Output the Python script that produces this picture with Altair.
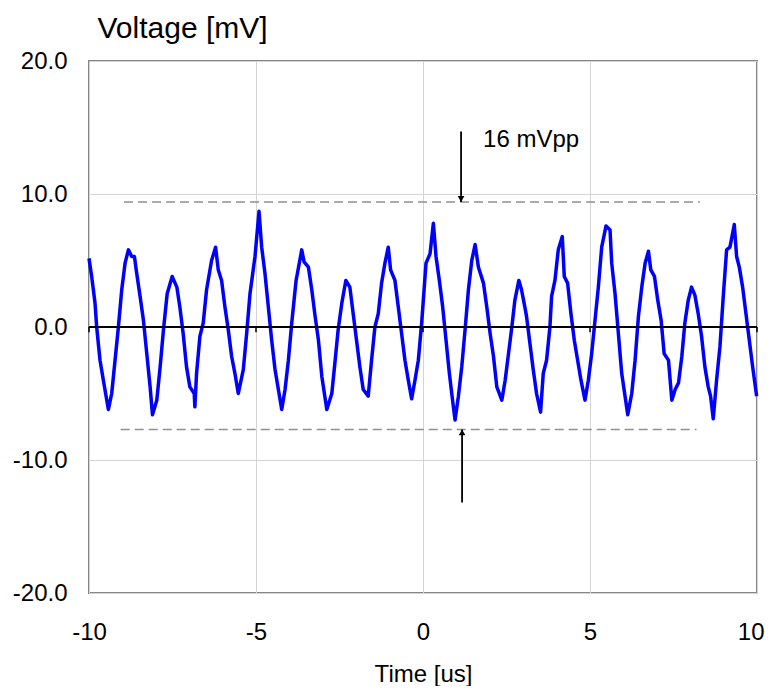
import altair as alt
import pandas as pd

# ---- waveform ----
time_us = [
    -10.0, -9.92, -9.82, -9.77, -9.67, -9.57, -9.42, -9.32, -9.22, -9.12,
    -9.02, -8.92, -8.82, -8.72, -8.64, -8.57, -8.47, -8.37, -8.27, -8.17,
    -8.10, -7.97, -7.87, -7.77, -7.66, -7.51, -7.37, -7.28, -7.18, -7.08,
    -6.98, -6.85, -6.83, -6.78, -6.68, -6.58, -6.48, -6.33, -6.21, -6.13,
    -6.03, -5.93, -5.83, -5.73, -5.63, -5.53, -5.38, -5.28, -5.18, -5.03,
    -4.91, -4.83, -4.73, -4.63, -4.53, -4.43, -4.33, -4.23, -4.13, -4.03,
    -3.93, -3.80, -3.63, -3.56,
    -3.43, -3.33, -3.23, -3.13, -3.03, -2.88, -2.73, -2.63, -2.54, -2.43,
    -2.31, -2.19, -2.09, -1.99, -1.89, -1.79, -1.64, -1.54, -1.44, -1.34,
    -1.24, -1.14, -1.04, -0.97, -0.84, -0.74, -0.64, -0.54, -0.44, -0.34,
    -0.24, -0.14, -0.04, 0.09, 0.21, 0.31, 0.39, 0.49, 0.59, 0.69,
    0.79, 0.87, 0.96, 1.06, 1.16, 1.26, 1.36, 1.46, 1.56, 1.66,
    1.81, 1.91, 2.01, 2.11, 2.21, 2.36, 2.46, 2.56, 2.66, 2.75,
    2.87, 2.95, 3.05,
    3.10, 3.20, 3.30, 3.40, 3.52, 3.60, 3.70, 3.80, 3.85, 3.95,
    4.05, 4.17, 4.23, 4.33, 4.43, 4.53, 4.63, 4.73, 4.85, 4.95,
    5.05, 5.15, 5.25, 5.35, 5.48, 5.60, 5.65, 5.75, 5.85, 5.95,
    6.05, 6.13, 6.25, 6.35, 6.45, 6.55, 6.65, 6.75, 6.82, 6.93,
    7.03, 7.13, 7.22, 7.35, 7.45, 7.55, 7.65, 7.75, 7.84, 7.94,
    8.04, 8.14, 8.24, 8.34, 8.44, 8.54, 8.61, 8.69, 8.79, 8.89,
    8.99, 9.09, 9.19, 9.32, 9.39, 9.47, 9.57, 9.67, 9.77, 9.87,
    9.99,
]
voltage_mv = [
    5.16, 3.8, 1.8, 0.0, -2.5, -4.0, -6.2, -5.0, -2.5, 0.0,
    2.8, 4.8, 5.8, 5.3, 5.3, 4.0, 2.3, 0.5, -2.0, -4.5,
    -6.6, -5.5, -3.0, -0.2, 2.5, 3.8, 3.0, 1.5, -0.5, -3.0,
    -4.5, -5.0, -6.0, -3.5, -0.7, 0.3, 2.8, 5.0, 6.0, 4.3,
    3.5, 1.5, -0.2, -2.2, -3.5, -5.0, -3.2, -0.5, 2.5, 5.3,
    8.7, 6.0, 4.0, 1.5, -1.0, -3.2, -4.7, -6.2, -4.7, -2.5,
    0.3, 3.5, 5.8, 4.9,
    4.5, 2.8, 0.8, -1.0, -3.7, -6.2, -5.0, -2.5, -0.2, 1.8,
    3.5, 3.0, 1.0, -1.0, -3.0, -4.7, -5.2, -2.5, 0.0, 1.0,
    3.3, 4.8, 6.0, 4.3, 3.5, 1.5, -0.5, -2.5, -4.0, -5.4,
    -4.0, -2.5, 0.3, 4.8, 5.5, 7.8, 5.3, 3.5, 1.5, -1.0,
    -3.5, -5.2, -7.0, -5.2, -3.0, -0.2, 2.8, 5.0, 6.2, 4.5,
    3.3, 1.5, -0.5, -2.2, -4.5, -5.5, -4.0, -2.0, 0.0, 2.0,
    3.5, 2.8, 1.5,
    0.8, -1.2, -3.2, -5.0, -6.4, -3.5, -2.5, 0.0, 2.3, 3.5,
    5.8, 6.8, 3.8, 3.3, 1.0, -1.0, -2.5, -4.0, -5.5, -4.0,
    -2.0, 0.5, 3.0, 6.0, 7.6, 7.3, 4.8, 2.5, -0.5, -3.5,
    -5.2, -6.6, -5.0, -2.5, 0.8, 3.0, 4.8, 5.7, 4.3, 3.8,
    2.0, 0.5, -2.0, -2.5, -5.5, -4.7, -4.2, -2.2, 0.3, 2.0,
    3.0, 2.4, 1.0, -0.7, -3.0, -4.5, -5.2, -6.9, -4.0, -1.5,
    2.3, 5.8, 6.0, 7.7, 5.3, 4.5, 3.0, 1.0, -1.0, -3.0,
    -5.2,
]

# ---- axes ----
x_ticks = [-10, -5, 0, 5, 10]
y_ticks = [-20, -10, 0, 10, 20]

# ---- annotation: peak-to-peak band ----
band_level = [9.4, -7.7]
band_start = [-8.95, -9.05]
band_end = [8.29, 8.19]
arrow_t = [1.14, 1.17]
arrow_tail = [14.7, -13.2]
arrow_tip = [9.4, -7.7]
label_text = ["16 mVpp"]
label_t = [1.80]
label_v = [13.55]

FONT = "Liberation Sans"

wave = pd.DataFrame({"t": time_us, "v": voltage_mv})
ticks = pd.DataFrame({"t": x_ticks, "v0": [0] * len(x_ticks), "v1": [-0.4] * len(x_ticks)})
bands = pd.DataFrame({"level": band_level, "t0": band_start, "t1": band_end})
arrows = pd.DataFrame({"t": arrow_t, "tail": arrow_tail, "tip": arrow_tip})
labels = pd.DataFrame({"text": label_text, "t": label_t, "v": label_v})

xs = alt.Scale(domain=[-10, 10], nice=False, zero=False)
ys = alt.Scale(domain=[-20, 20], nice=False, zero=False)

x_axis = alt.Axis(
    values=x_ticks, grid=True, gridColor="#d4d4d4", gridWidth=1,
    labelExpr="datum.value < 0 ? '-' + format(-datum.value, 'd') : format(datum.value, 'd')",
    ticks=False, tickSize=0, domain=False, labelFlush=False,
    labelAlign={"condition": {"test": "datum.value >= 10", "value": "right"}, "value": "center"},
    labelOffset={"condition": {"test": "datum.value >= 10", "value": 7}, "value": 0},
    labelFont=FONT, labelFontSize=24, labelColor="black", labelPadding=27,
    title="Time [us]", titleFont=FONT, titleFontSize=24, titleFontWeight="normal",
    titleColor="black", titlePadding=18,
)
y_axis = alt.Axis(
    values=y_ticks, grid=True, gridColor="#d4d4d4", gridWidth=1,
    labelExpr="datum.value < 0 ? '-' + format(-datum.value, '.1f') : format(datum.value, '.1f')",
    ticks=False, tickSize=0, domain=False, labelFlush=False,
    labelFont=FONT, labelFontSize=24, labelColor="black", labelPadding=22,
    title="Voltage [mV]", titleFont=FONT, titleFontSize=30, titleFontWeight="normal",
    titleColor="black", titleAngle=0, titleAlign="left", titleBaseline="alphabetic",
    titleX=8, titleY=-24,
)


def X(field):
    return alt.X(field, type="quantitative", scale=xs, axis=x_axis)


def Y(field):
    return alt.Y(field, type="quantitative", scale=ys, axis=y_axis)


line = alt.Chart(wave).mark_line(color="#0000ff", strokeWidth=3.5, strokeJoin="round").encode(
    x=X("t"), y=Y("v"), order="t:Q",
)

zero_ticks = alt.Chart(ticks).mark_rule(color="black", strokeWidth=1.5).encode(
    x=X("t"), y=Y("v0"), y2="v1:Q",
)

zero_line = alt.Chart(ticks).mark_rule(color="black", strokeWidth=1.5).encode(
    x=alt.datum(-10, type="quantitative", scale=xs, axis=x_axis),
    x2=alt.datum(10),
    y=Y("v0"),
)

band_lines = alt.Chart(bands).mark_rule(
    color="#909090", strokeWidth=1.5, strokeDash=[9, 5]
).encode(
    x=X("t0"), x2="t1:Q", y=Y("level"),
)

arrow_lines = alt.Chart(arrows).mark_rule(color="black", strokeWidth=1.8).encode(
    x=X("t"), y=Y("tail"), y2="tip:Q",
)

heads_down = alt.Chart(arrows.iloc[[0]]).mark_point(
    shape="triangle-down", filled=True, color="black", size=45, opacity=1, yOffset=-3
).encode(x=X("t"), y=Y("tip"))

heads_up = alt.Chart(arrows.iloc[[1]]).mark_point(
    shape="triangle-up", filled=True, color="black", size=45, opacity=1, yOffset=3
).encode(x=X("t"), y=Y("tip"))

text = alt.Chart(labels).mark_text(
    font=FONT, fontSize=24, color="black", align="left", baseline="alphabetic"
).encode(x=X("t"), y=Y("v"), text="text:N")

chart = alt.layer(
    line, zero_line, zero_ticks, band_lines, arrow_lines, heads_down, heads_up, text
).properties(
    width=668,
    height=532,
    background="white",
    autosize=alt.AutoSizeParams(type="none"),
    padding={"left": 81, "top": 53, "right": 7, "bottom": 93},
).configure_view(
    stroke="#868686", strokeWidth=2
)

chart.save("out.html", embed_options={"renderer": "svg", "actions": False})
